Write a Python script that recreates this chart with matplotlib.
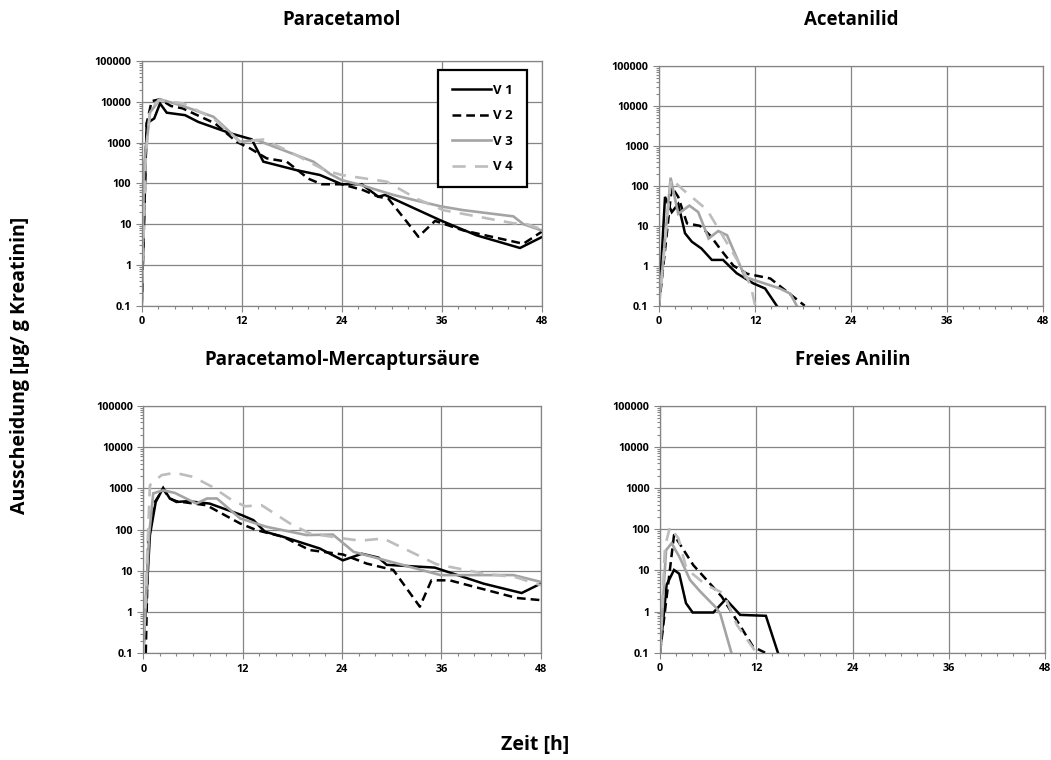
import matplotlib
matplotlib.use('Agg')
import matplotlib.pyplot as plt
from matplotlib.ticker import FixedLocator, LogLocator, NullFormatter, FuncFormatter

plt.rcParams['font.family'] = ['Open Sans', 'DejaVu Sans']

W, H = 1051, 760

# Paracetamol
pa_t1 = [0, 0.6, 1.5, 2.2, 3.0, 5.2, 6.8, 10.6, 13.2, 14.6, 18.6, 21.4, 24, 26.4, 28.4, 29.2, 36, 40.2, 45.4, 48]
pa_v1 = [0.1, 2950, 3900, 9100, 5400, 4700, 3200, 1700, 1200, 340, 210, 160, 95, 95, 47, 52, 12, 5.3, 2.6, 4.8]
pa_t2 = [0, 0.6, 1.2, 2.2, 3.5, 4.9, 8.8, 11.4, 13, 15, 17.4, 18.6, 20, 21.6, 24, 26.6, 28.4, 29.6, 31.8, 33.2, 35.2, 38.6, 45.8, 48]
pa_v2 = [0.1, 3000, 10400, 11500, 7900, 6900, 2950, 1040, 720, 410, 340, 220, 130, 95, 95, 68, 47, 42, 11.5, 4.9, 12, 7, 3.3, 6.5]
pa_t3 = [0, 0.3, 1.0, 2.2, 4.6, 8.6, 10.6, 11.8, 13.8, 17, 20.6, 22.6, 24, 26.4, 30.2, 33.4, 36, 38.6, 44.6, 45.8, 48]
pa_v3 = [0.1, 300, 5500, 11500, 8300, 4300, 1800, 1040, 1150, 650, 340, 170, 120, 90, 52, 36, 27, 22, 15.5, 10, 7]
pa_t4 = [0, 0.5, 1.0, 2.0, 5.0, 8.6, 10.6, 11.8, 14.6, 17.4, 22, 24, 29.4, 33, 36.2, 44.6, 46.2, 48]
pa_v4 = [0.1, 500, 6000, 11000, 9100, 3900, 1700, 1040, 1190, 650, 210, 160, 110, 42, 22, 10.5, 10, 7.5]

# Acetanilid
ac_t1 = [0, 0.75, 1.6, 2.4, 3.25, 4.1, 5.3, 6.6, 8.0, 9.7, 11.8, 13.25, 14.7]
ac_v1 = [0.1, 53, 22, 35, 6.5, 4, 2.7, 1.4, 1.4, 0.65, 0.36, 0.27, 0.1]
ac_t2 = [0, 1.6, 2.4, 3.5, 5.1, 6.4, 7.8, 9.3, 11, 13.9, 18.2]
ac_v2 = [0.1, 93, 53, 11.5, 10, 5.7, 2.4, 1.0, 0.63, 0.48, 0.1]
ac_t3 = [0, 1.45, 2.4, 3.8, 4.9, 6.2, 7.4, 8.5, 10.75, 15.1, 16.4, 17.2]
ac_v3 = [0.1, 160, 20, 32, 22, 4.8, 7.4, 5.8, 0.52, 0.27, 0.2, 0.1]
ac_t4 = [0, 1.5, 3.0, 4.5, 6.0, 7.5, 9.0, 10.5, 11.5, 12]
ac_v4 = [0.1, 150, 80, 45, 25, 8, 2.5, 0.8, 0.3, 0.1]

# Paracetamol-Mercaptursaeure
pm_t1 = [0, 0.8, 1.5, 2.4, 3.2, 4.0, 5.4, 8.0, 11.9, 13.3, 14.7, 16.9, 21.3, 24.1, 26.4, 28.4, 29.4, 35.2, 41.1, 45.7, 48]
pm_v1 = [0.1, 74, 470, 1030, 570, 470, 490, 430, 225, 170, 89, 67, 35, 18, 26, 21, 14, 12, 4.9, 2.9, 4.9]
pm_t2 = [0.3, 0.6, 1.4, 2.4, 3.2, 4.0, 7.65, 11.7, 13.7, 16.9, 20.1, 24.1, 27, 30.2, 33.4, 34.8, 37, 45.1, 48]
pm_v2 = [0.1, 62, 470, 960, 570, 490, 390, 141, 97, 67, 32, 25, 15, 10.5, 1.35, 5.9, 5.9, 2.2, 1.95]
pm_t3 = [0, 0.7, 1.2, 2.4, 3.8, 6.4, 7.7, 8.9, 11.7, 14.9, 19.7, 22.9, 25.4, 35.9, 44.7, 48]
pm_v3 = [0.1, 74, 760, 900, 780, 430, 570, 570, 187, 117, 74, 76, 29, 7.9, 7.9, 5.4]
pm_t4 = [0, 0.8, 2.2, 3.8, 6.05, 8.3, 10.7, 12.3, 14.3, 17.7, 20.1, 24.2, 26.2, 29, 35.4, 41, 45.1, 48]
pm_v4 = [0.1, 1200, 2100, 2400, 1900, 1100, 520, 370, 390, 142, 81, 61, 54, 61, 14.5, 8.7, 6.9, 4.5]

# Freies Anilin
fa_t1 = [0, 0.83, 1.75, 2.4, 3.24, 4.07, 6.65, 8.2, 10, 13.2, 14.7]
fa_v1 = [0.1, 4.5, 10.3, 8.3, 1.6, 0.95, 0.95, 2.0, 0.83, 0.79, 0.1]
fa_t2 = [0, 1.75, 4.15, 7.7, 9.8, 11.6, 13.1]
fa_v2 = [0.1, 73, 13.5, 2.3, 0.52, 0.14, 0.1]
fa_t3 = [0, 0.75, 1.45, 2.5, 3.74, 5.0, 6.9, 7.5, 8.9]
fa_v3 = [0.1, 31, 46, 20, 5.9, 3.1, 1.3, 0.9, 0.1]
fa_t4 = [0, 0.62, 1.25, 2.3, 3.3, 5.7, 7.9, 9.6, 11.6, 12.0]
fa_v4 = [0.1, 38, 115, 60, 11, 4.5, 2.8, 0.47, 0.13, 0.1]

labels = ['V 1', 'V 2', 'V 3', 'V 4']
titles = ['Paracetamol', 'Acetanilid', 'Paracetamol-Mercaptursäure', 'Freies Anilin']
xticks = [0, 12, 24, 36, 48]
yticks = [0.1, 1, 10, 100, 1000, 10000, 100000]

panels = [
    [(pa_t1, pa_v1), (pa_t2, pa_v2), (pa_t3, pa_v3), (pa_t4, pa_v4)],
    [(ac_t1, ac_v1), (ac_t2, ac_v2), (ac_t3, ac_v3), (ac_t4, ac_v4)],
    [(pm_t1, pm_v1), (pm_t2, pm_v2), (pm_t3, pm_v3), (pm_t4, pm_v4)],
    [(fa_t1, fa_v1), (fa_t2, fa_v2), (fa_t3, fa_v3), (fa_t4, fa_v4)],
]

# axes boxes in pixels: left, top, right, bottom
boxes = [(141.7, 61, 541.7, 305.7), (659, 66, 1043.3, 305.7),
         (143.3, 406, 540.7, 653.3), (660, 406, 1045, 652.7)]
title_y = [20, 20, 360, 360]

styles = [
    dict(color='black', lw=1.8, ls='-'),
    dict(color='black', lw=1.8, ls=(0, (3.5, 2))),
    dict(color='#a4a4a4', lw=1.9, ls='-'),
    dict(color='#bdbdbd', lw=1.9, ls=(0, (5, 3.5))),
]

fig = plt.figure(figsize=(W / 100, H / 100), dpi=100)

def fmt(v, pos):
    return '%g' % v

for i, (box, data) in enumerate(zip(boxes, panels)):
    l, t, r, b = box
    ax = fig.add_axes([l / W, 1 - b / H, (r - l) / W, (b - t) / H])
    for (tt, vv), st, lab in zip(data, styles, labels):
        ax.plot(tt, vv, label=lab, solid_joinstyle='miter', **st)
    ax.set_yscale('log')
    ax.set_xlim(0, 48)
    ax.set_ylim(0.1, 100000)
    ax.set_xticks(xticks)
    ax.xaxis.set_minor_locator(FixedLocator(range(0, 49, 2)))
    ax.set_yticks(yticks)
    ax.yaxis.set_major_formatter(FuncFormatter(fmt))
    ax.yaxis.set_minor_locator(LogLocator(base=10, subs=range(2, 10), numticks=20))
    ax.yaxis.set_minor_formatter(NullFormatter())
    ax.grid(True, which='major', color='#858585', lw=0.9)
    ax.set_axisbelow(True)
    for s in ax.spines.values():
        s.set_color('#858585')
        s.set_linewidth(0.9)
    ax.tick_params(which='both', direction='out', colors='#858585', labelcolor='black',
                   labelsize=7.8, width=0.8)
    ax.tick_params(which='major', length=4)
    ax.tick_params(which='minor', length=2.5)
    for lbl in ax.get_xticklabels() + ax.get_yticklabels():
        lbl.set_fontweight('bold')
    fig.text(((l + r) / 2) / W, 1 - title_y[i] / H, titles[i], ha='center', va='center',
             fontsize=13.5, fontweight='bold')
    if i == 0:
        leg = ax.legend(loc='upper right', bbox_to_anchor=(527 / W, 1 - 70 / H),
                        bbox_transform=fig.transFigure, borderaxespad=0, fancybox=False,
                        framealpha=1, edgecolor='black', handlelength=3.0,
                        handletextpad=0.15, labelspacing=0.95, borderpad=1.05,
                        prop={'weight': 'bold', 'size': 9.5})
        leg.get_frame().set_linewidth(1.6)

fig.text(20 / W, 1 - 365 / H, 'Ausscheidung [µg/ g Kreatinin]', rotation=90,
         ha='center', va='center', fontsize=14, fontweight='bold')
fig.text(535 / W, 1 - 745 / H, 'Zeit [h]', ha='center', va='center',
         fontsize=14, fontweight='bold')

fig.savefig('out.png', dpi=100)
